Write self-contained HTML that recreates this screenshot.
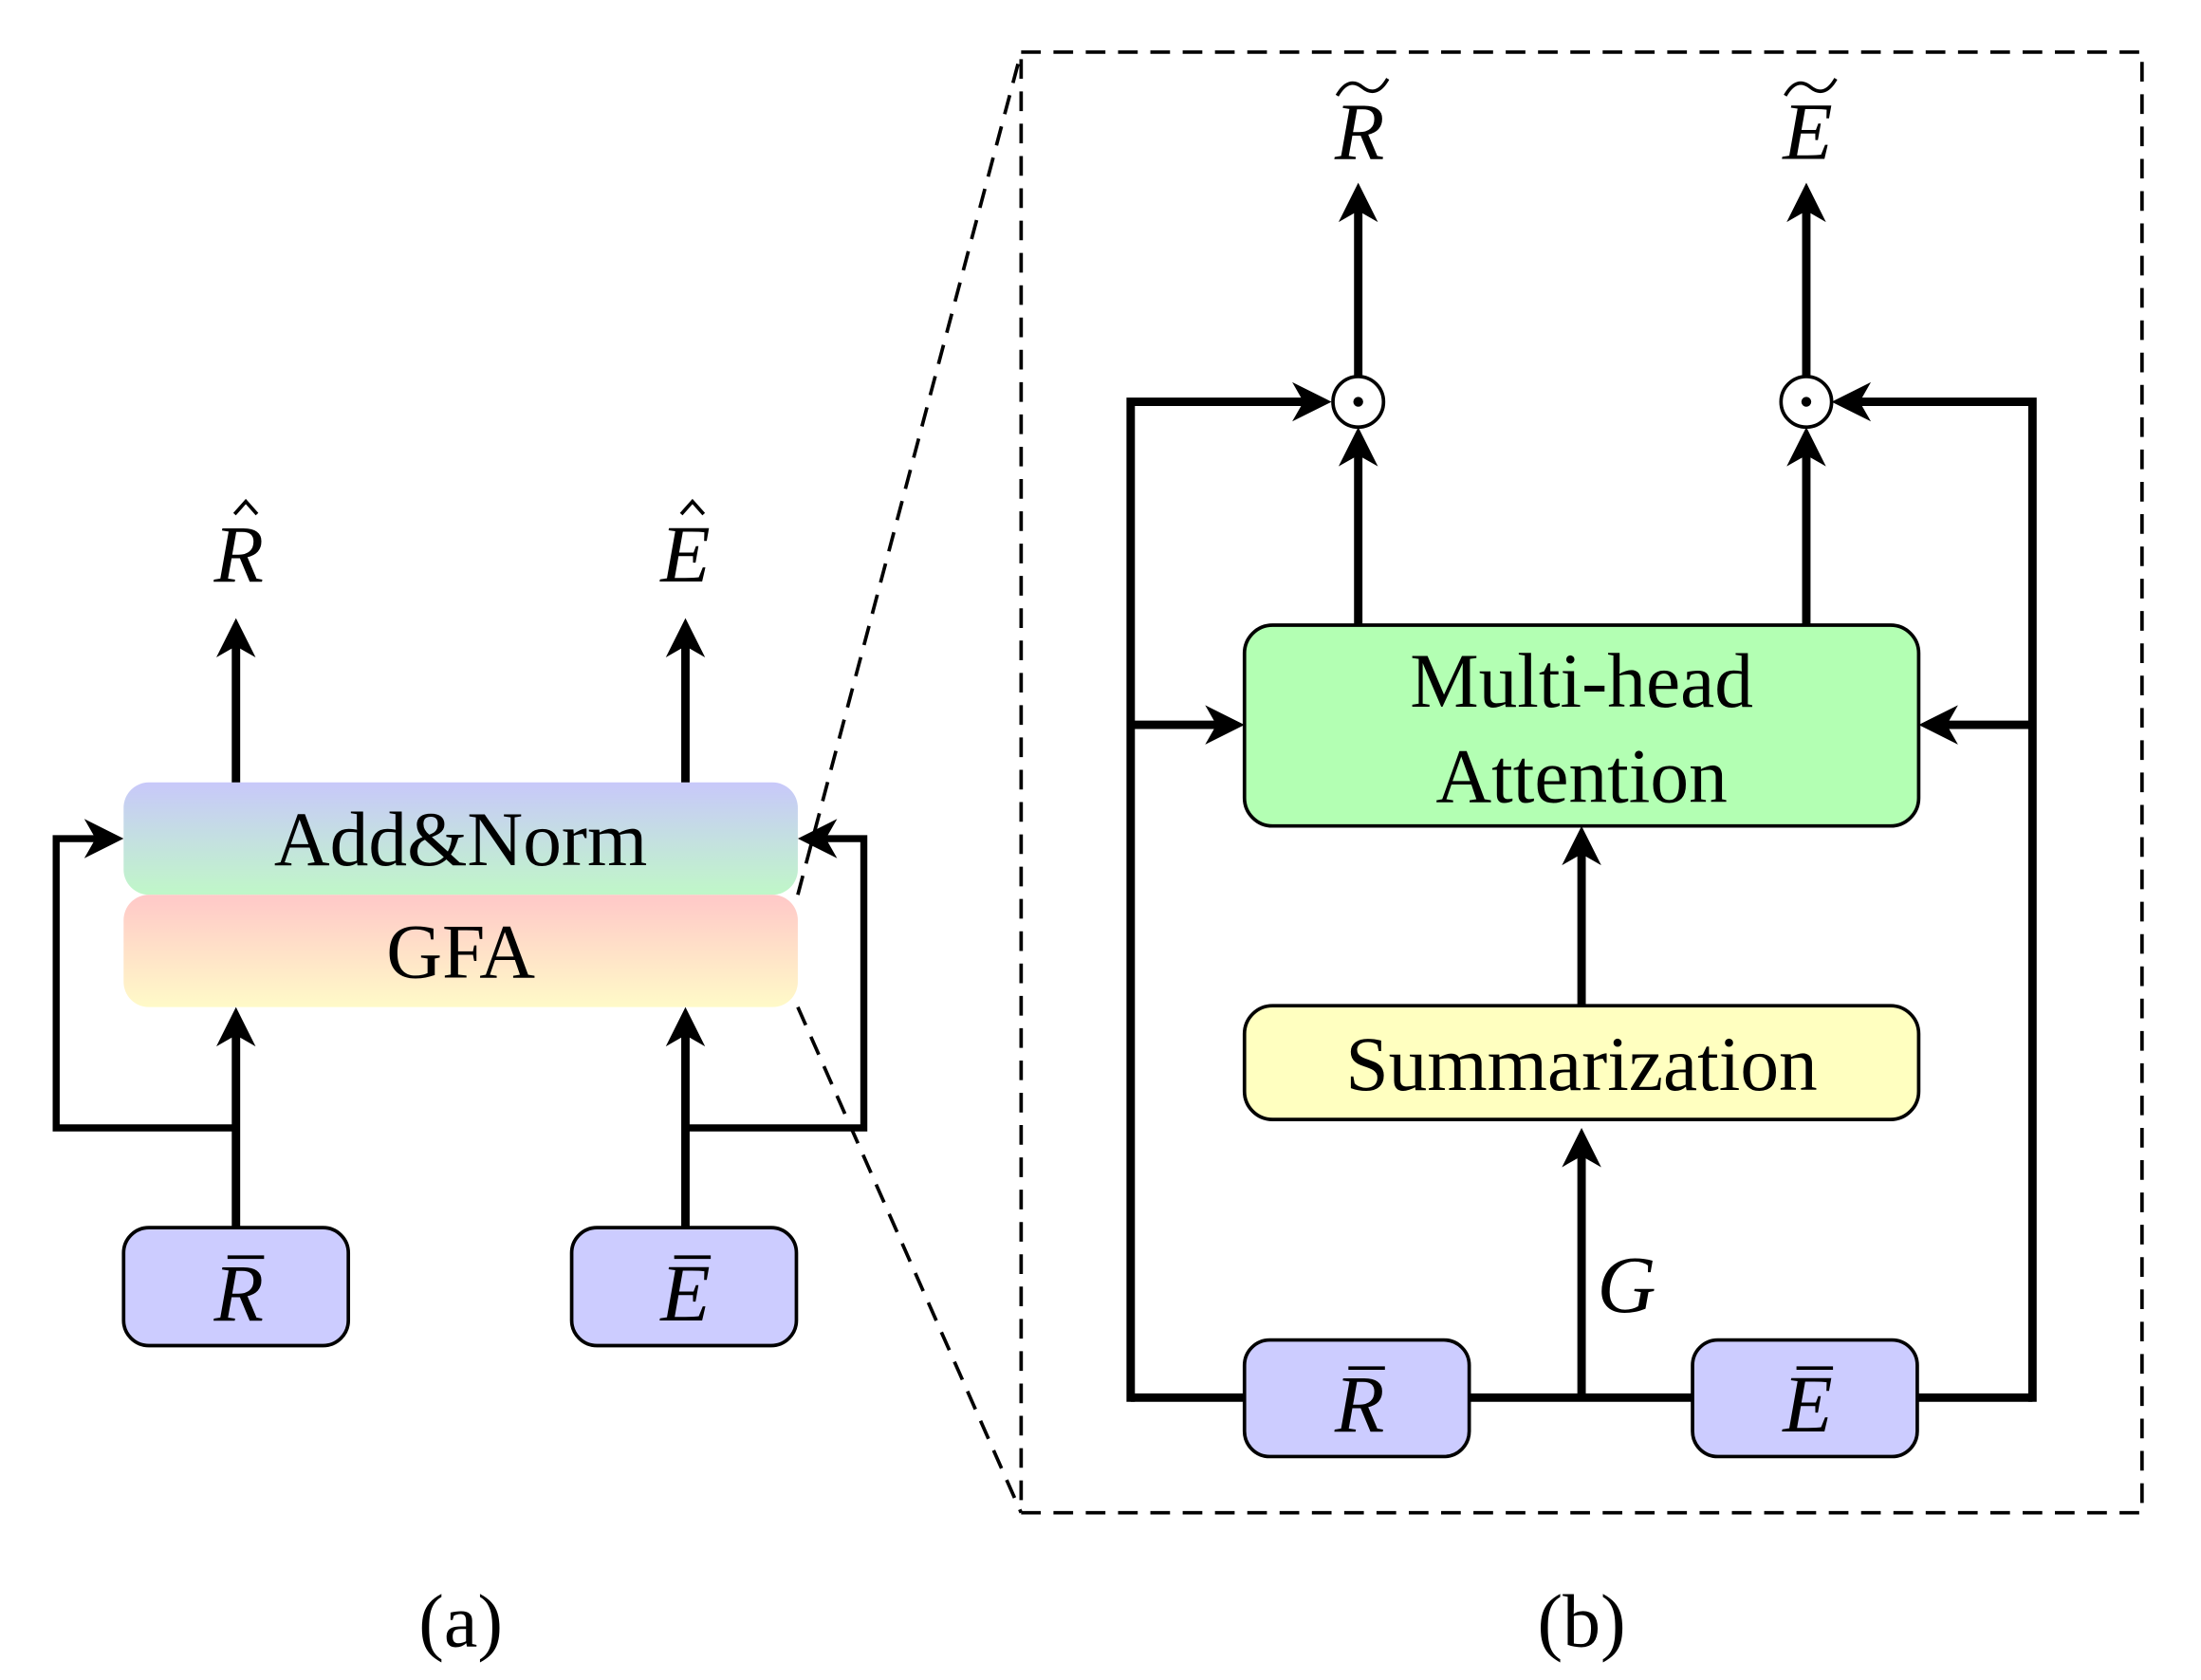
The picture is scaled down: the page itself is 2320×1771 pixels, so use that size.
<!DOCTYPE html>
<html><head><meta charset="utf-8"><style>
html,body{margin:0;padding:0;background:#fff;}
svg{display:block;}
text{font-family:"Liberation Serif",serif;fill:#000;}
</style></head><body>
<svg width="2320" height="1771" viewBox="0 0 1567 1196" xmlns="http://www.w3.org/2000/svg">
<defs>
<marker id="ar" markerUnits="userSpaceOnUse" markerWidth="40" markerHeight="40" viewBox="-20 -20 40 40" refX="0" refY="0" orient="auto">
<path d="M15,0 L-13,-14 L-5,0 L-13,14 z" fill="#000"/>
</marker>
<linearGradient id="g1" x1="0" y1="0" x2="0" y2="1"><stop offset="0" stop-color="#c8c8fa"/><stop offset="1" stop-color="#c0f7c8"/></linearGradient>
<linearGradient id="g2" x1="0" y1="0" x2="0" y2="1"><stop offset="0" stop-color="#ffc8c8"/><stop offset="1" stop-color="#fffac8"/></linearGradient>
</defs>

<!-- (a) -->
<rect x="88" y="557" width="480" height="80" rx="18" fill="url(#g1)"/>
<rect x="88" y="637" width="480" height="80" rx="18" fill="url(#g2)"/>
<text x="328" y="616" font-size="55" text-anchor="middle">Add&amp;Norm</text>
<text x="328" y="696" font-size="55" text-anchor="middle">GFA</text>

<g stroke="#000" stroke-width="6" fill="none">
<line x1="168" y1="874" x2="168" y2="732" marker-end="url(#ar)"/>
<line x1="488" y1="874" x2="488" y2="732" marker-end="url(#ar)"/>
<line x1="168" y1="557" x2="168" y2="455" marker-end="url(#ar)"/>
<line x1="488" y1="557" x2="488" y2="455" marker-end="url(#ar)"/>
<polyline points="168,803 40,803 40,597 73,597" stroke-width="5" marker-end="url(#ar)"/>
<polyline points="488,803 615,803 615,597 583,597" stroke-width="5" marker-end="url(#ar)"/>
</g>
<rect x="88" y="874" width="160" height="84" rx="18" fill="#ccccff" stroke="#000" stroke-width="2.5"/>
<rect x="407" y="874" width="160" height="84" rx="18" fill="#ccccff" stroke="#000" stroke-width="2.5"/>
<text x="170" y="940" font-size="58" font-style="italic" text-anchor="middle">R</text>
<line x1="162" y1="895" x2="188" y2="895" stroke="#000" stroke-width="2.5"/>
<text x="488" y="940" font-size="58" font-style="italic" text-anchor="middle">E</text>
<line x1="480" y1="895" x2="506" y2="895" stroke="#000" stroke-width="2.5"/>
<text x="170" y="414" font-size="58" font-style="italic" text-anchor="middle">R</text>
<polyline points="167,366 175,357 183,366" stroke="#000" stroke-width="2.5" fill="none"/>
<text x="488" y="414" font-size="58" font-style="italic" text-anchor="middle">E</text>
<polyline points="485,366 493,357 501,366" stroke="#000" stroke-width="2.5" fill="none"/>

<!-- zoom dashed -->
<g stroke="#000" stroke-width="2.5" stroke-dasharray="14,9" fill="none">
<line x1="568" y1="637" x2="727" y2="37"/>
<line x1="568" y1="717" x2="727" y2="1077"/>
<rect x="727" y="37" width="798" height="1040"/>
</g>

<!-- (b) -->
<g stroke="#000" stroke-width="6" fill="none">
<polyline points="805,995 1447,995"/>
<polyline points="805,998 805,286 933,286" marker-end="url(#ar)"/>
<polyline points="1447,998 1447,286 1319,286" marker-end="url(#ar)"/>
<line x1="805" y1="516" x2="871" y2="516" marker-end="url(#ar)"/>
<line x1="1447" y1="516" x2="1381" y2="516" marker-end="url(#ar)"/>
<line x1="1126" y1="995" x2="1126" y2="818" marker-end="url(#ar)"/>
<line x1="1126" y1="716" x2="1126" y2="603" marker-end="url(#ar)"/>
<line x1="967" y1="445" x2="967" y2="319" marker-end="url(#ar)"/>
<line x1="1286" y1="445" x2="1286" y2="319" marker-end="url(#ar)"/>
<line x1="967" y1="268" x2="967" y2="145" marker-end="url(#ar)"/>
<line x1="1286" y1="268" x2="1286" y2="145" marker-end="url(#ar)"/>
</g>
<circle cx="967" cy="286" r="18" fill="#fff" stroke="#000" stroke-width="2.5"/>
<circle cx="967" cy="286" r="3.5" fill="#000"/>
<circle cx="1286" cy="286" r="18" fill="#fff" stroke="#000" stroke-width="2.5"/>
<circle cx="1286" cy="286" r="3.5" fill="#000"/>

<rect x="886" y="445" width="480" height="143" rx="20" fill="#b3ffb3" stroke="#000" stroke-width="2.5"/>
<text x="1126" y="503" font-size="55" text-anchor="middle">Multi-head</text>
<text x="1126" y="571" font-size="55" text-anchor="middle">Attention</text>
<rect x="886" y="716" width="480" height="81" rx="20" fill="#ffffc0" stroke="#000" stroke-width="2.5"/>
<text x="1126" y="776" font-size="55" text-anchor="middle">Summarization</text>

<rect x="886" y="954" width="160" height="83" rx="18" fill="#ccccff" stroke="#000" stroke-width="2.5"/>
<rect x="1205" y="954" width="160" height="83" rx="18" fill="#ccccff" stroke="#000" stroke-width="2.5"/>
<text x="968" y="1019" font-size="58" font-style="italic" text-anchor="middle">R</text>
<line x1="960" y1="974" x2="986" y2="974" stroke="#000" stroke-width="2.5"/>
<text x="1287" y="1019" font-size="58" font-style="italic" text-anchor="middle">E</text>
<line x1="1279" y1="974" x2="1305" y2="974" stroke="#000" stroke-width="2.5"/>
<text x="1158" y="934" font-size="58" font-style="italic" text-anchor="middle">G</text>

<text x="968" y="113" font-size="58" font-style="italic" text-anchor="middle">R</text>
<path d="M952,68 Q960,54 970,62 Q980,70 988,56" stroke="#000" stroke-width="2.5" fill="none"/>
<text x="1287" y="113" font-size="58" font-style="italic" text-anchor="middle">E</text>
<path d="M1271,68 Q1279,54 1289,62 Q1299,70 1307,56" stroke="#000" stroke-width="2.5" fill="none"/>

<text x="328" y="1172" font-size="54" text-anchor="middle">(a)</text>
<text x="1126" y="1172" font-size="54" text-anchor="middle">(b)</text>
</svg>
</body></html>
